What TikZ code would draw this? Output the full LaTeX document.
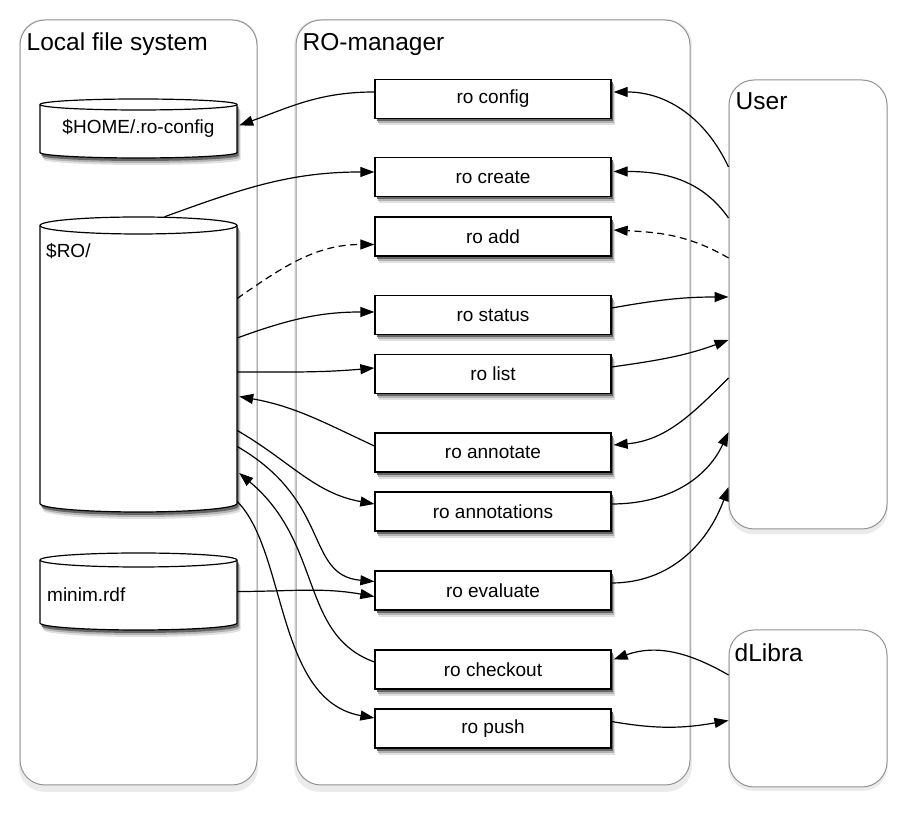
\documentclass[tikz,border=0pt]{standalone}
\usepackage{fontspec}
\setmainfont{Liberation Sans}
\usetikzlibrary{arrows.meta,shadows}

\tikzset{
  softshadow/.style={
    general shadow={fill=black!12,shadow xshift=3.5pt,shadow yshift=-7pt},
    general shadow={fill=black!30,shadow xshift=2.5pt,shadow yshift=-5pt},
    general shadow={fill=black!60,shadow xshift=1.5pt,shadow yshift=-3pt}}
}

% outline of a database drum: centre x, centre y, half height, end radius
\newcommand{\dbshape}[4]{%
  \draw[fill=white,line width=1.2pt,softshadow]
    (#1-98.5,#2+#3) -- (#1-98.5,#2-#3) arc[start angle=180,end angle=360,x radius=98.5,y radius=#4]
    -- (#1+98.5,#2+#3) arc[start angle=0,end angle=180,x radius=98.5,y radius=#4] -- cycle;
  \draw[line width=1.2pt] (#1-98.5,#2+#3) arc[start angle=180,end angle=360,x radius=98.5,y radius=#4];
}

\begin{document}
\begin{tikzpicture}[x=1pt,y=1pt,
    group/.style={draw=gray!85,fill=white,rounded corners=25pt,line width=1pt,
      general shadow={fill=black!8,shadow xshift=0pt,shadow yshift=-3pt,shadow scale=1.01}},
    grouptitle/.style={anchor=base west,inner sep=0pt,font=\fontsize{24.5}{29}\selectfont},
    cmd/.style={draw,fill=white,line width=1.3pt,minimum width=236pt,minimum height=39pt,
      font=\fontsize{19}{23}\selectfont,softshadow},
    dbbody/.style={minimum width=197pt,inner sep=0pt,font=\fontsize{19}{23}\selectfont},
    dblabel/.style={anchor=base west,inner sep=0pt,font=\fontsize{19}{23}\selectfont},
    link/.style={-{Triangle[length=14pt,width=10pt]},line width=1.2pt},
    optional/.style={dash pattern=on 7pt off 4.5pt}]
  \useasboundingbox (0,0) rectangle (905,826);

  % containers
  \node[group,minimum width=237pt,minimum height=765pt] (lfs) at (138.5,423.5) {};
  \node[group,minimum width=394pt,minimum height=765pt] (mgr) at (493,423.5) {};
  \node[group,minimum width=158pt,minimum height=449pt] (user) at (808,521.5) {};
  \node[group,minimum width=158pt,minimum height=157pt] (dlibra) at (808,117.5) {};
  \node[grouptitle] (lfstitle) at ([xshift=7pt,yshift=-31pt]lfs.north west) {Local file system};
  \node[grouptitle] (mgrtitle) at ([xshift=7pt,yshift=-31pt]mgr.north west) {RO-manager};
  \node[grouptitle] (usertitle) at ([xshift=7pt,yshift=-30pt]user.north west) {User};
  \node[grouptitle] (dlibratitle) at ([xshift=6pt,yshift=-32pt]dlibra.north west) {dLibra};

  % local files
  \dbshape{138.5}{697.5}{24}{5.5}
  \dbshape{138.5}{461.5}{139}{8.5}
  \dbshape{138.5}{234.5}{31.5}{7}
  \node[dbbody,minimum height=48pt] (home) at (138.5,697.5) {\$HOME/.ro-config};
  \node[dbbody,minimum height=278pt] (ro) at (138.5,461.5) {};
  \node[dbbody,minimum height=63pt] (minim) at (138.5,234.5) {};
  \node[dblabel] (rolabel) at (46,568) {\$RO/};
  \node[dblabel] (minimlabel) at (47,224) {minim.rdf};

  % commands
  \node[cmd] (config) at (493,727) {ro config};
  \node[cmd] (create) at (493,649) {ro create};
  \node[cmd] (add) at (493,589.5) {ro add};
  \node[cmd] (status) at (493,511) {ro status};
  \node[cmd] (list) at (493,452) {ro list};
  \node[cmd] (annotate) at (493,373.5) {ro annotate};
  \node[cmd] (annotations) at (493,314.5) {ro annotations};
  \node[cmd] (evaluate) at (493,235.5) {ro evaluate};
  \node[cmd] (checkout) at (493,156.5) {ro checkout};
  \node[cmd] (push) at (493,97.5) {ro push};

  % files <-> commands
  \draw[link] ([yshift=7pt]config.west) to[out=180,in=20] ([xshift=2pt,yshift=3pt]home.east);
  \draw[link] ([xshift=26pt,yshift=8.5pt]ro.north) to[out=20,in=180] ([yshift=5pt]create.west);
  \draw[link,optional] ([yshift=66pt]ro.east) to[out=35,in=180] ([yshift=-8pt]add.west);
  \draw[link] ([yshift=26.5pt]ro.east) to[out=20,in=180] ([yshift=3pt]status.west);
  \draw[link] ([yshift=-7.5pt]ro.east) to[out=0,in=185] ([yshift=6pt]list.west);
  \draw[link] ([yshift=6.5pt]annotate.west) to[out=155,in=-10] ([xshift=2pt,yshift=-32pt]ro.east);
  \draw[link] ([yshift=-66pt]ro.east) to[out=-30,in=170] ([yshift=7.5pt]annotations.west);
  \draw[link] ([yshift=-82pt]ro.east) to[out=-30,in=175,out distance=110pt,in distance=70pt] ([yshift=9pt]evaluate.west);
  \draw[link] (minim.east) to[out=0,in=170] ([yshift=-6pt]evaluate.west);
  \draw[link] ([yshift=7.5pt]checkout.west) to[out=160,in=-40,out distance=80pt,in distance=110pt] ([xshift=2pt,yshift=-108.5pt]ro.east);
  \draw[link] ([yshift=-137pt]ro.east) to[out=-45,in=170,out distance=70pt,in distance=100pt] ([yshift=10.5pt]push.west);

  % commands <-> user, dLibra
  \draw[link] ([yshift=137.5pt]user.west) to[out=115,in=0] ([xshift=2pt,yshift=7pt]config.east);
  \draw[link] ([yshift=86.5pt]user.west) to[out=125,in=0] ([xshift=2pt,yshift=5.5pt]create.east);
  \draw[link,optional] ([yshift=46.5pt]user.west) to[out=150,in=-3] ([xshift=2pt,yshift=6.5pt]add.east);
  \draw[link] ([yshift=7pt]status.east) to[out=10,in=180] ([yshift=7.5pt]user.west);
  \draw[link] ([yshift=7pt]list.east) to[out=8,in=200] ([yshift=-35.5pt]user.west);
  \draw[link] ([yshift=-73.5pt]user.west) to[out=225,in=5] ([xshift=2pt,yshift=7.5pt]annotate.east);
  \draw[link] ([yshift=7.5pt]annotations.east) to[out=0,in=245] ([yshift=-127.5pt]user.west);
  \draw[link] ([yshift=7.5pt]evaluate.east) to[out=0,in=250] ([yshift=-182.5pt]user.west);
  \draw[link] ([yshift=33.5pt]dlibra.west) to[out=150,in=20] ([xshift=2pt,yshift=10pt]checkout.east);
  \draw[link] ([yshift=7pt]push.east) to[out=-10,in=190] ([yshift=-12pt]dlibra.west);
\end{tikzpicture}
\end{document}
